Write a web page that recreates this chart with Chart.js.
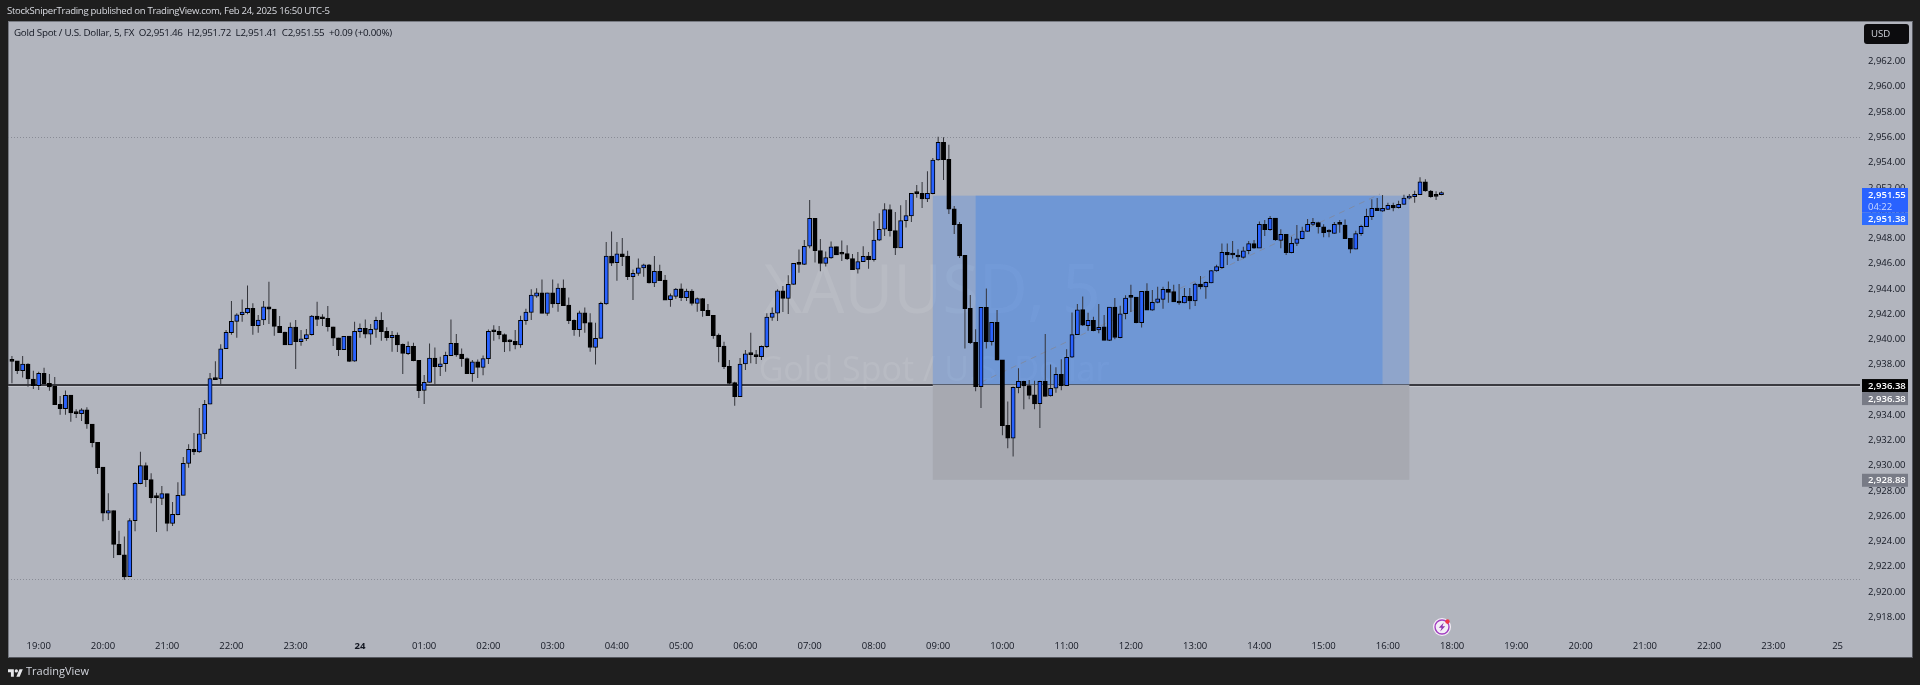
<!DOCTYPE html>
<html>
<head>
<meta charset="utf-8">
<title>XAUUSD 5</title>
<script src="https://cdn.jsdelivr.net/npm/chart.js@4"></script>
<style>
    html, body { margin: 0; width: 1920px; height: 685px; overflow: hidden; background: #1e1e1e; font-family: "Open Sans", sans-serif; }
    #panel { position: absolute; left: 8px; top: 21px; width: 1903px; height: 635px; background: #b2b5be; border-right: 1px solid #55575e; border-bottom: 1px solid #55575e; border-top: 1px solid #777a82; border-left: 1px solid #777a82; box-sizing: content-box; }
    #chart { position: absolute; left: 0; top: 0; }
    .txt { position: absolute; white-space: nowrap; }
    #published { left: 7px; top: 4px; font-size: 9.6px; letter-spacing: -0.3px; line-height: 14px; color: #d8dae0; }
    #legend { left: 14px; top: 26px; font-size: 9.8px; letter-spacing: -0.25px; line-height: 14px; color: #131722; }
    #brand { left: 26px; top: 663px; font-size: 11px; line-height: 16px; color: #d1d4dc; }
    #logo { position: absolute; left: 8px; top: 667px; width: 15px; height: 12px; fill: #e6e7ea; }
</style>
</head>
<body>
<div id="panel"></div>
<canvas id="chart" width="1920" height="685"></canvas>
<div class="txt" id="published">StockSniperTrading published on TradingView.com, Feb 24, 2025 16:50 UTC-5</div>
<div class="txt" id="legend">Gold Spot / U.S. Dollar, 5, FX &nbsp;O2,951.46 &nbsp;H2,951.72 &nbsp;L2,951.41 &nbsp;C2,951.55 &nbsp;+0.09 (+0.00%)</div>
<svg id="logo" viewBox="0 0 36 26"><path d="M14 22H7V11H0V4h14v18zM28 22h-8l7.5-18h8L28 22z"/><circle cx="20" cy="8" r="4"/></svg>
<div class="txt" id="brand">TradingView</div>
<script>
const opens = [
    2938.29, 2938.29, 2937.52, 2938.05, 2936.86, 2936.33, 2937.31, 2936.52, 2936.28, 2934.86,
    2934.51, 2935.59, 2934.17, 2934.12, 2934.41, 2933.30, 2931.85, 2929.89, 2926.23, 2926.44,
    2923.77, 2922.93, 2921.21, 2925.65, 2928.57, 2930.00, 2928.89, 2927.49, 2927.41, 2927.78,
    2925.43, 2926.12, 2927.65, 2930.18, 2931.29, 2931.08, 2932.51, 2934.86, 2936.89, 2936.86,
    2939.26, 2940.53, 2941.42, 2941.95, 2942.11, 2942.45, 2941.08, 2941.53, 2942.58, 2942.40,
    2941.03, 2940.58, 2939.55, 2940.97, 2939.81, 2940.05, 2940.37, 2941.84, 2941.66, 2941.66,
    2941.00, 2940.13, 2939.18, 2940.26, 2938.28, 2940.60, 2940.87, 2940.42, 2940.79, 2941.50,
    2940.63, 2940.13, 2940.34, 2939.60, 2938.86, 2939.44, 2938.34, 2935.96, 2936.59, 2938.52,
    2937.83, 2938.07, 2938.70, 2939.68, 2938.84, 2938.47, 2937.28, 2938.23, 2937.78, 2938.47,
    2940.65, 2940.63, 2940.37, 2939.87, 2939.84, 2939.55, 2941.48, 2942.14, 2943.43, 2943.69,
    2942.06, 2943.69, 2942.82, 2944.06, 2942.72, 2941.50, 2940.76, 2942.11, 2941.32, 2939.37,
    2940.08, 2942.80, 2946.60, 2946.07, 2946.78, 2946.60, 2944.96, 2945.22, 2945.65, 2945.91,
    2944.46, 2945.38, 2944.70, 2943.14, 2943.40, 2944.01, 2943.30, 2943.83, 2942.85, 2943.22,
    2942.30, 2941.90, 2940.34, 2939.47, 2937.86, 2936.57, 2935.46, 2938.05, 2938.89, 2938.79,
    2938.63, 2939.42, 2941.74, 2942.08, 2943.85, 2943.25, 2944.35, 2946.02, 2945.94, 2947.37,
    2949.59, 2947.03, 2946.02, 2946.45, 2947.34, 2946.79, 2946.79, 2946.39, 2945.55, 2946.16,
    2946.60, 2946.31, 2947.85, 2948.72, 2950.27, 2948.61, 2947.24, 2949.40, 2949.77, 2951.57,
    2951.57, 2951.12, 2951.54, 2954.20, 2955.60, 2954.26, 2950.33, 2949.11, 2946.66, 2942.46,
    2939.77, 2936.26, 2942.54, 2939.82, 2941.35, 2938.37, 2933.20, 2932.18, 2936.18, 2936.68,
    2936.34, 2935.60, 2934.91, 2936.68, 2935.52, 2936.13, 2937.24, 2936.34, 2938.58, 2940.38,
    2942.36, 2941.08, 2941.51, 2940.74, 2941.00, 2939.92, 2942.56, 2940.13, 2942.03, 2943.35,
    2943.35, 2941.32, 2943.83, 2942.32, 2942.93, 2943.17, 2943.96, 2943.78, 2943.01, 2942.88,
    2943.41, 2943.04, 2944.38, 2944.15, 2944.46, 2945.41, 2945.68, 2946.89, 2946.73, 2946.68,
    2946.49, 2947.02, 2947.58, 2947.23, 2949.11, 2948.68, 2949.61, 2947.84, 2948.32, 2946.86,
    2947.60, 2947.97, 2948.55, 2949.11, 2949.24, 2948.92, 2948.53, 2948.39, 2949.13, 2949.05,
    2948.00, 2947.15, 2948.37, 2948.92, 2949.71, 2950.40, 2950.16, 2950.29, 2950.61, 2950.43,
    2950.69, 2951.19, 2951.30, 2951.46, 2952.48, 2951.75, 2951.38, 2951.46
];
const highs = [
    2938.68, 2938.29, 2938.68, 2938.10, 2937.52, 2937.44, 2937.76, 2937.26, 2937.02, 2935.51,
    2935.96, 2935.59, 2934.46, 2934.54, 2934.62, 2933.30, 2931.85, 2929.89, 2927.81, 2926.44,
    2924.85, 2924.38, 2925.83, 2928.71, 2931.11, 2930.24, 2929.39, 2927.86, 2928.39, 2927.78,
    2927.12, 2928.68, 2930.69, 2931.69, 2932.59, 2934.56, 2935.20, 2937.34, 2938.26, 2939.61,
    2940.74, 2943.03, 2942.06, 2943.16, 2944.27, 2942.85, 2941.92, 2943.03, 2944.56, 2942.40,
    2941.84, 2940.60, 2941.34, 2941.53, 2940.74, 2940.82, 2941.92, 2942.98, 2941.98, 2942.64,
    2941.00, 2940.13, 2940.26, 2940.26, 2941.40, 2941.26, 2941.58, 2941.21, 2941.79, 2942.14,
    2940.95, 2940.66, 2940.55, 2939.68, 2939.84, 2939.73, 2938.34, 2937.17, 2939.68, 2939.36,
    2938.63, 2939.02, 2941.58, 2940.42, 2939.28, 2938.57, 2938.36, 2938.41, 2938.73, 2940.79,
    2941.11, 2941.05, 2940.47, 2940.00, 2940.74, 2941.87, 2942.43, 2943.96, 2944.04, 2944.75,
    2943.69, 2944.75, 2944.43, 2944.75, 2943.32, 2941.58, 2942.27, 2942.53, 2942.06, 2941.32,
    2942.98, 2947.70, 2948.55, 2947.70, 2948.02, 2947.02, 2945.54, 2946.41, 2945.99, 2945.96,
    2946.60, 2945.91, 2945.09, 2943.64, 2944.06, 2944.43, 2944.01, 2943.96, 2943.32, 2943.27,
    2942.80, 2941.93, 2940.47, 2939.81, 2938.36, 2936.65, 2938.52, 2939.15, 2940.53, 2939.15,
    2939.52, 2942.06, 2942.53, 2943.96, 2944.22, 2945.07, 2946.02, 2947.12, 2947.86, 2951.04,
    2949.59, 2947.95, 2946.95, 2947.74, 2947.34, 2947.82, 2947.45, 2946.76, 2946.92, 2947.37,
    2946.92, 2949.35, 2949.98, 2950.77, 2950.67, 2950.09, 2950.62, 2951.04, 2951.57, 2952.23,
    2952.46, 2953.31, 2954.36, 2956.05, 2956.00, 2955.42, 2950.56, 2949.30, 2946.66, 2943.52,
    2940.80, 2942.54, 2944.02, 2941.35, 2942.33, 2938.37, 2935.07, 2936.26, 2937.71, 2936.73,
    2936.79, 2936.73, 2936.73, 2940.43, 2938.00, 2937.79, 2938.42, 2939.22, 2942.12, 2942.80,
    2943.39, 2942.11, 2941.80, 2942.80, 2941.93, 2942.56, 2943.27, 2942.67, 2943.49, 2944.33,
    2943.35, 2943.80, 2944.44, 2943.91, 2944.17, 2944.17, 2944.59, 2944.33, 2944.38, 2944.07,
    2944.07, 2944.49, 2945.02, 2944.59, 2945.49, 2945.91, 2947.60, 2947.60, 2947.79, 2947.13,
    2947.34, 2947.79, 2947.87, 2949.34, 2949.45, 2949.77, 2949.61, 2948.71, 2948.32, 2948.13,
    2949.05, 2948.92, 2949.53, 2949.61, 2949.32, 2949.11, 2948.71, 2949.29, 2949.45, 2949.50,
    2948.00, 2948.61, 2949.08, 2950.35, 2951.09, 2951.19, 2951.43, 2950.82, 2950.82, 2950.98,
    2951.46, 2951.51, 2951.77, 2952.83, 2952.67, 2951.83, 2951.72, 2951.72
];
const lows = [
    2936.52, 2937.26, 2936.97, 2936.25, 2936.07, 2935.99, 2936.49, 2935.94, 2934.83, 2934.04,
    2934.04, 2933.48, 2933.77, 2933.54, 2932.93, 2931.45, 2929.34, 2925.59, 2925.70, 2922.69,
    2922.93, 2920.97, 2921.21, 2924.80, 2928.52, 2928.31, 2927.02, 2924.75, 2926.89, 2924.80,
    2925.22, 2926.07, 2927.65, 2929.84, 2930.84, 2931.03, 2932.11, 2934.86, 2936.78, 2936.44,
    2939.26, 2940.37, 2940.13, 2941.40, 2941.98, 2940.37, 2940.53, 2941.13, 2941.21, 2940.29,
    2940.53, 2939.55, 2939.55, 2937.65, 2939.50, 2939.87, 2940.31, 2941.05, 2941.05, 2940.63,
    2939.47, 2938.68, 2939.15, 2938.20, 2938.23, 2940.13, 2940.08, 2939.58, 2940.13, 2939.89,
    2939.89, 2939.02, 2938.99, 2937.25, 2938.76, 2938.26, 2935.35, 2934.88, 2936.59, 2936.46,
    2937.09, 2937.44, 2938.70, 2938.63, 2937.83, 2937.28, 2936.65, 2936.94, 2937.15, 2938.04,
    2939.89, 2940.00, 2938.99, 2939.05, 2939.21, 2939.34, 2941.16, 2941.53, 2943.30, 2942.06,
    2941.87, 2942.51, 2942.19, 2942.66, 2941.21, 2940.29, 2940.21, 2940.53, 2939.02, 2938.01,
    2940.05, 2942.74, 2945.80, 2944.64, 2945.80, 2944.70, 2943.11, 2945.04, 2944.96, 2944.43,
    2944.14, 2944.64, 2943.11, 2942.59, 2943.22, 2943.03, 2943.03, 2942.69, 2942.19, 2941.79,
    2941.87, 2940.05, 2938.18, 2937.65, 2936.36, 2934.75, 2935.46, 2937.57, 2938.10, 2938.05,
    2938.36, 2939.31, 2941.48, 2941.45, 2942.16, 2942.00, 2944.33, 2945.28, 2945.88, 2947.21,
    2946.08, 2945.39, 2945.76, 2946.39, 2946.68, 2946.21, 2946.29, 2945.52, 2945.21, 2946.13,
    2945.60, 2946.16, 2947.79, 2948.19, 2948.14, 2946.68, 2947.24, 2948.85, 2949.30, 2951.22,
    2950.41, 2950.88, 2951.49, 2954.15, 2952.62, 2949.93, 2948.35, 2946.45, 2939.27, 2939.64,
    2935.89, 2934.57, 2939.27, 2939.51, 2938.35, 2932.41, 2931.38, 2930.72, 2935.73, 2934.47,
    2935.26, 2934.47, 2932.99, 2935.47, 2935.47, 2935.78, 2935.98, 2936.31, 2938.53, 2940.35,
    2941.06, 2940.69, 2940.64, 2940.48, 2939.92, 2939.87, 2940.00, 2940.08, 2941.59, 2942.17,
    2941.27, 2940.93, 2942.32, 2942.27, 2942.85, 2942.43, 2942.90, 2942.96, 2942.75, 2942.85,
    2942.38, 2942.64, 2943.96, 2943.22, 2944.44, 2945.36, 2945.60, 2945.89, 2946.41, 2946.20,
    2946.41, 2946.73, 2947.18, 2947.23, 2948.18, 2948.61, 2947.81, 2947.21, 2946.68, 2946.81,
    2947.39, 2947.92, 2948.53, 2949.00, 2948.39, 2948.08, 2948.08, 2948.37, 2948.45, 2947.97,
    2946.81, 2947.13, 2948.21, 2948.90, 2949.45, 2950.16, 2950.11, 2950.24, 2950.14, 2950.37,
    2950.66, 2951.09, 2950.82, 2951.43, 2951.69, 2951.22, 2951.03, 2951.41
];
const closes = [
    2938.26, 2937.52, 2938.05, 2936.86, 2936.33, 2937.31, 2936.49, 2936.23, 2934.83, 2934.51,
    2935.57, 2934.17, 2934.12, 2934.41, 2933.30, 2931.82, 2929.84, 2926.23, 2926.44, 2923.77,
    2922.93, 2921.19, 2925.65, 2928.60, 2930.00, 2928.89, 2927.47, 2927.47, 2927.78, 2925.43,
    2926.15, 2927.65, 2930.18, 2931.29, 2931.08, 2932.51, 2934.86, 2936.89, 2936.81, 2939.26,
    2940.55, 2941.42, 2941.95, 2942.16, 2942.45, 2941.08, 2941.53, 2942.58, 2942.40, 2941.03,
    2940.53, 2939.55, 2940.97, 2939.81, 2940.05, 2940.37, 2941.84, 2941.58, 2941.63, 2941.00,
    2940.10, 2939.18, 2940.24, 2938.26, 2940.63, 2940.87, 2940.42, 2940.79, 2941.50, 2940.60,
    2940.13, 2940.31, 2939.55, 2938.89, 2939.44, 2938.31, 2935.93, 2936.59, 2938.52, 2937.83,
    2938.07, 2938.73, 2939.68, 2938.76, 2938.47, 2937.28, 2938.23, 2937.78, 2938.47, 2940.63,
    2940.60, 2940.37, 2939.79, 2939.81, 2939.55, 2941.50, 2942.16, 2943.51, 2943.69, 2942.06,
    2943.69, 2942.80, 2944.06, 2942.66, 2941.48, 2940.76, 2942.11, 2941.29, 2939.37, 2940.08,
    2942.85, 2946.60, 2946.04, 2946.78, 2946.54, 2944.96, 2945.22, 2945.67, 2945.91, 2944.46,
    2945.38, 2944.64, 2943.11, 2943.46, 2943.98, 2943.30, 2943.83, 2942.85, 2943.22, 2942.27,
    2941.87, 2940.29, 2939.42, 2937.83, 2936.52, 2935.46, 2938.05, 2938.86, 2938.79, 2938.63,
    2939.44, 2941.77, 2942.08, 2943.85, 2943.25, 2944.35, 2946.02, 2945.94, 2947.36, 2949.59,
    2947.03, 2946.02, 2946.47, 2947.32, 2946.68, 2946.74, 2946.37, 2945.52, 2946.16, 2946.58,
    2946.31, 2947.87, 2948.72, 2950.27, 2948.61, 2947.24, 2949.40, 2949.80, 2951.57, 2951.54,
    2951.12, 2951.57, 2954.20, 2955.60, 2954.23, 2950.30, 2949.09, 2946.60, 2942.43, 2939.74,
    2936.26, 2942.54, 2939.82, 2941.35, 2938.35, 2933.17, 2932.18, 2936.21, 2936.68, 2936.31,
    2935.57, 2934.89, 2936.68, 2935.49, 2936.13, 2937.24, 2936.34, 2938.58, 2940.38, 2942.33,
    2941.12, 2941.51, 2940.69, 2940.95, 2939.92, 2942.56, 2940.16, 2942.03, 2943.27, 2943.33,
    2941.32, 2943.80, 2942.32, 2942.93, 2943.20, 2943.96, 2943.72, 2942.96, 2942.88, 2943.41,
    2943.04, 2944.38, 2944.15, 2944.52, 2945.44, 2945.76, 2946.89, 2946.68, 2946.68, 2946.52,
    2947.02, 2947.58, 2947.23, 2949.11, 2948.68, 2949.58, 2947.87, 2948.32, 2946.86, 2947.60,
    2947.97, 2948.58, 2949.11, 2949.24, 2948.92, 2948.45, 2948.50, 2949.11, 2949.11, 2947.97,
    2947.15, 2948.37, 2948.95, 2949.74, 2950.37, 2950.19, 2950.37, 2950.61, 2950.40, 2950.69,
    2951.19, 2951.35, 2951.48, 2952.48, 2951.75, 2951.30, 2951.32, 2951.55
];

// bar number of each time label, one hour is 12 bars
const timeTickBars = [5, 17, 29, 41, 53, 65, 77, 89, 101, 113, 125, 137, 149, 161, 173, 185, 197, 209, 221, 233, 245, 257, 269, 281, 293, 305, 317, 329, 341];
const timeTickLabels = ['19:00', '20:00', '21:00', '22:00', '23:00', '24', '01:00', '02:00', '03:00', '04:00', '05:00', '06:00', '07:00', '08:00', '09:00', '10:00', '11:00', '12:00', '13:00', '14:00', '15:00', '16:00', '18:00', '19:00', '20:00', '21:00', '22:00', '23:00', '25'];
const priceTicks = [2918, 2920, 2922, 2924, 2926, 2928, 2930, 2932, 2934, 2936, 2938, 2940, 2942, 2944, 2946, 2948, 2950, 2952, 2954, 2956, 2958, 2960, 2962];

const entryPrice = 2936.38;
const targetPrice = 2951.38;
const stopPrice = 2928.88;
const lastPrice = 2951.55;
const dottedPrices = [2956.05, 2921.0];

const candleFont = '"Open Sans", sans-serif';
const priceFormat = v => v.toLocaleString('en-US', { minimumFractionDigits: 2, maximumFractionDigits: 2 });

// Position tool box, watermark and price lines go behind the candles
const behindCandles = {
    id: 'behindCandles',
    beforeDatasetsDraw(chart) {
        const { ctx, chartArea, scales } = chart;
        const x = scales.x, y = scales.y;
        ctx.save();

        ctx.textAlign = 'center';
        ctx.textBaseline = 'middle';
        ctx.fillStyle = 'rgba(255,255,255,0.085)';
        ctx.font = '67px ' + candleFont;
        ctx.fillText('XAUUSD, 5', 932, 294);
        ctx.font = '34px ' + candleFont;
        ctx.fillText('Gold Spot / U.S. Dollar', 934, 371);

        const left = x.getPixelForValue(172), right = x.getPixelForValue(261);
        const top = y.getPixelForValue(targetPrice), mid = y.getPixelForValue(entryPrice), bottom = y.getPixelForValue(stopPrice);
        ctx.fillStyle = 'rgba(41,120,240,0.26)';
        ctx.fillRect(left, top, right - left, mid - top);
        ctx.fillStyle = 'rgba(41,120,240,0.3)';
        const darkLeft = x.getPixelForValue(180), darkRight = x.getPixelForValue(256);
        ctx.fillRect(darkLeft, top, darkRight - darkLeft, mid - top);
        ctx.fillStyle = 'rgba(90,90,90,0.13)';
        ctx.fillRect(left, mid, right - left, bottom - mid);

        // trend line of the position tool
        ctx.strokeStyle = 'rgba(130,135,150,0.75)';
        ctx.lineWidth = 1;
        ctx.setLineDash([6, 5]);
        ctx.beginPath();
        ctx.moveTo(x.getPixelForValue(181), y.getPixelForValue(2936.6));
        ctx.lineTo(x.getPixelForValue(255.5), y.getPixelForValue(2951.5));
        ctx.stroke();

        // dotted lines
        ctx.strokeStyle = 'rgba(110,113,124,0.6)';
        ctx.setLineDash([1, 2]);
        dottedPrices.forEach(p => {
            const py = Math.round(y.getPixelForValue(p)) + 0.5;
            ctx.beginPath();
            ctx.moveTo(chartArea.left, py);
            ctx.lineTo(chartArea.right, py);
            ctx.stroke();
        });
        ctx.setLineDash([]);

        // entry line
        const ly = Math.round(mid);
        [[chartArea.left, left], [right, chartArea.right]].forEach(seg => {
            ctx.fillStyle = 'rgba(235,236,240,0.35)';
            ctx.fillRect(seg[0], ly + 1, seg[1] - seg[0], 1);
            ctx.fillStyle = '#3a3a40';
            ctx.fillRect(seg[0], ly - 1, seg[1] - seg[0], 2);
        });
        ctx.fillStyle = 'rgba(70,72,80,0.75)';
        ctx.fillRect(left, ly - 1, right - left, 1);
        ctx.restore();
    }
};

// Price tags, USD button and the small lightning badge on top of everything
function priceTag(ctx, text, top, height, back, color, bold) {
    ctx.fillStyle = back;
    ctx.fillRect(1862, top, 46, height);
    ctx.fillStyle = color;
    ctx.font = (bold ? '600 ' : '') + '9.5px ' + candleFont;
    ctx.textAlign = 'left';
    ctx.textBaseline = 'middle';
    ctx.fillText(text, 1868, top + height / 2 + 0.5);
}

const overlays = {
    id: 'overlays',
    afterDraw(chart) {
        const { ctx, scales } = chart;
        const y = scales.y;
        ctx.save();

        const lastY = y.getPixelForValue(lastPrice);
        priceTag(ctx, priceFormat(lastPrice), lastY - 5.5, 13, '#2962ff', '#ffffff', true);
        priceTag(ctx, '04:22', lastY + 7, 12, '#2962ff', '#c9d8ff', false);
        priceTag(ctx, priceFormat(targetPrice), lastY + 19, 12.5, '#2f6dff', '#ffffff', true);

        const entryY = y.getPixelForValue(entryPrice);
        priceTag(ctx, priceFormat(entryPrice), entryY - 6, 13, '#000000', '#ffffff', true);
        priceTag(ctx, priceFormat(entryPrice), entryY + 7, 13, '#787b86', '#ffffff', true);
        const stopY = y.getPixelForValue(stopPrice);
        priceTag(ctx, priceFormat(stopPrice), stopY - 6, 13, '#787b86', '#ffffff', true);

        // USD button
        ctx.fillStyle = '#0c0c0e';
        ctx.beginPath();
        ctx.roundRect(1864, 24, 45, 20, 3);
        ctx.fill();
        ctx.fillStyle = '#d1d4dc';
        ctx.font = '9.6px ' + candleFont;
        ctx.textAlign = 'left';
        ctx.textBaseline = 'middle';
        ctx.fillText('USD', 1871, 34.5);

        // lightning badge
        const bx = 1442, by = 627;
        ctx.fillStyle = '#f4eef6';
        ctx.beginPath(); ctx.arc(bx, by, 9, 0, Math.PI * 2); ctx.fill();
        ctx.strokeStyle = '#a13fc0';
        ctx.lineWidth = 1.4;
        ctx.beginPath(); ctx.arc(bx, by, 7, 0, Math.PI * 2); ctx.stroke();
        ctx.fillStyle = '#8e35b0';
        ctx.beginPath();
        ctx.moveTo(bx + 1.8, by - 4.5);
        ctx.lineTo(bx - 3.2, by + 0.8);
        ctx.lineTo(bx - 0.4, by + 0.8);
        ctx.lineTo(bx - 1.8, by + 4.5);
        ctx.lineTo(bx + 3.2, by - 0.8);
        ctx.lineTo(bx + 0.4, by - 0.8);
        ctx.closePath();
        ctx.fill();
        ctx.fillStyle = '#f23645';
        ctx.beginPath(); ctx.arc(bx + 5.5, by - 5.5, 2.2, 0, Math.PI * 2); ctx.fill();
        ctx.restore();
    }
};

const ctx = document.getElementById('chart').getContext('2d');
new Chart(ctx, {
    type: 'bar',
    data: {
        datasets: [
            {
                label: 'Body',
                data: opens.map((o, i) => ({ x: i, y: [o, closes[i]] })),
                backgroundColor: opens.map((o, i) => closes[i] >= o ? '#2962ff' : '#000000'),
                borderColor: '#000000',
                borderWidth: 1,
                borderSkipped: false,
                barThickness: 4.2,
                minBarLength: 2,
                grouped: false,
                order: 1
            },
            {
                label: 'Wick',
                data: highs.map((h, i) => ({ x: i, y: [lows[i], h] })),
                backgroundColor: '#33343a',
                borderWidth: 0,
                inflateAmount: 0,
                barThickness: 1,
                grouped: false,
                order: 2
            }
        ]
    },
    plugins: [behindCandles, overlays],
    options: {
        responsive: false,
        animation: false,
        layout: { padding: { left: 8, top: 21, right: 8, bottom: 28 } },
        plugins: {
            legend: { display: false },
            tooltip: { enabled: false }
        },
        scales: {
            x: {
                type: 'linear',
                offset: false,
                min: -0.734,
                max: 345.18,
                grid: { display: false, drawTicks: false },
                border: { display: false },
                afterFit(scale) { scale.height = 21; },
                afterBuildTicks(scale) { scale.ticks = timeTickBars.map(v => ({ value: v })); },
                ticks: {
                    autoSkip: false,
                    maxRotation: 0,
                    padding: 5,
                    color: '#131722',
                    font: c => ({ family: candleFont, size: 9.5, weight: c.tick && c.tick.value === 65 ? '700' : '400' }),
                    callback: v => timeTickLabels[timeTickBars.indexOf(v)]
                }
            },
            y: {
                type: 'linear',
                position: 'right',
                min: 2916.51,
                max: 2965.21,
                grid: { display: false, drawTicks: false },
                border: { display: false },
                afterFit(scale) { scale.width = 52; },
                afterBuildTicks(scale) { scale.ticks = priceTicks.map(v => ({ value: v })); },
                ticks: {
                    padding: 8,
                    color: '#131722',
                    font: { family: candleFont, size: 9.5 },
                    callback: v => priceFormat(v)
                }
            }
        }
    }
});
</script>
</body>
</html>
